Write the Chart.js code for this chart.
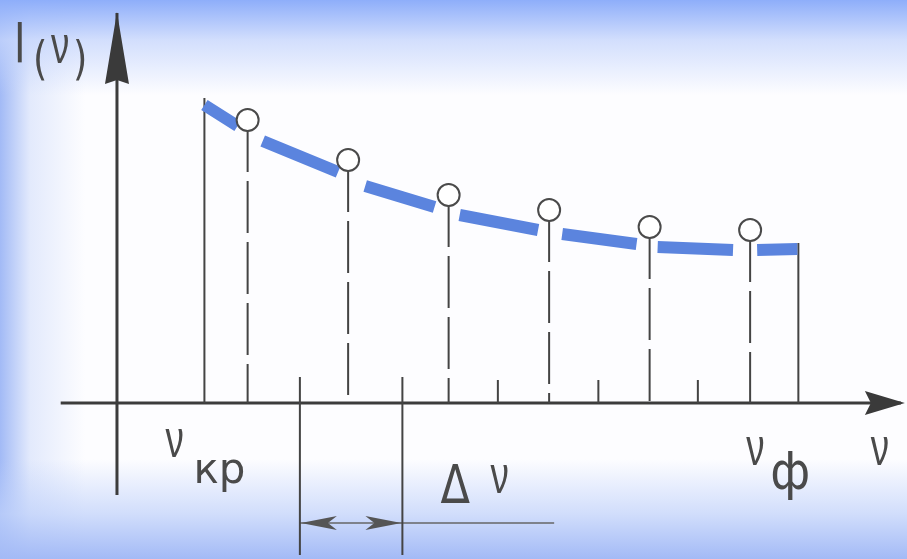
<!DOCTYPE html>
<html>
<head>
<meta charset="utf-8">
<script src="https://cdn.jsdelivr.net/npm/chart.js@4"></script>
<style>
  body { margin: 0; background: #fff; }
  #wrap {
    width: 907px; height: 559px; position: relative;
    background:
      linear-gradient(to bottom, #8eaefa 0px, rgba(196,212,252,0.75) 40px, rgba(255,255,255,0) 95px),
      linear-gradient(to top, #a3baf6 0px, rgba(190,208,250,0.7) 45px, rgba(255,255,255,0) 100px),
      linear-gradient(to right, #a2baf6 0px, rgba(205,218,250,0.55) 30px, rgba(255,255,255,0) 85px),
      #fdfdff;
  }
  canvas { display: block; }
</style>
</head>
<body>
<div id="wrap"><canvas id="spectrum" width="907" height="559"></canvas></div>
<script>
// stems (measured intensities at the centre of each interval)
var nuStem = [1.3, 2.3, 3.3, 4.3, 5.3, 6.3];
var iStem = [2.83, 2.43, 2.08, 1.93, 1.76, 1.73];

// continuous curve I(nu), broken where the circles sit
var bandNu = [0.87, 1.20, null, 1.45, 2.20, null, 2.47, 3.16, null, 3.41, 4.19, null, 4.43, 5.17, null, 5.38, 6.13, null, 6.37, 6.77];
var bandI  = [2.98, 2.77, null, 2.62, 2.31, null, 2.17, 1.96, null, 1.88, 1.73, null, 1.69, 1.59, null, 1.56, 1.53, null, 1.53, 1.54];

var nuKr = 0.87, iKr = 3.05;     // left limit
var nuF = 6.78, iF = 1.60;       // right limit
var binEdges = [3.79, 4.79, 5.78];
var tickH = 0.23;
var deltaNu = [1.82, 2.84];
var deltaTop = 0.26, deltaBottom = -1.52, deltaArrowI = -1.2, deltaLeaderEnd = 4.35;

var axisX = [-0.56, 7.8];   // nu range of horizontal axis
var axisY = [-0.92, 3.9];   // I range of vertical axis

var GAP = { x: null, y: null };

function pairs(xs, ys) {
  return xs.map(function (x, i) { return x === null ? GAP : { x: x, y: ys[i] }; });
}

var stemData = [];
nuStem.forEach(function (n, i) {
  stemData.push({ x: n, y: iStem[i] }, { x: n, y: 0 }, GAP);
});

var solidData = [
  { x: nuKr, y: 0 }, { x: nuKr, y: iKr }, GAP,
  { x: nuF, y: 0 }, { x: nuF, y: iF }, GAP
];
binEdges.forEach(function (n) { solidData.push({ x: n, y: 0 }, { x: n, y: tickH }, GAP); });
deltaNu.forEach(function (n) { solidData.push({ x: n, y: deltaTop }, { x: n, y: deltaBottom }, GAP); });

var axisData = [
  { x: axisX[0], y: 0 }, { x: axisX[1], y: 0 }, GAP,
  { x: 0, y: axisY[0] }, { x: 0, y: axisY[1] }
];

var leaderData = [{ x: deltaNu[0], y: deltaArrowI }, { x: deltaLeaderEnd, y: deltaArrowI }];

var ink = "#444444";

function arrow(ctx, tx, ty, dx, dy, len, half, notch) {
  // tip at (tx,ty), direction (dx,dy) points toward the tip
  var bx = tx - dx * len, by = ty - dy * len;
  var nx = -dy, ny = dx;
  ctx.beginPath();
  ctx.moveTo(tx, ty);
  ctx.lineTo(bx + nx * half, by + ny * half);
  ctx.lineTo(tx - dx * (len - notch), ty - dy * (len - notch));
  ctx.lineTo(bx - nx * half, by - ny * half);
  ctx.closePath();
  ctx.fill();
}

function label(ctx, str, x, y, size, sx, family) {
  ctx.save();
  ctx.translate(x, y);
  ctx.scale(sx, 1);
  ctx.font = size + "px " + (family || "'DejaVu Sans'");
  ctx.fillText(str, 0, 0);
  ctx.restore();
}

var NU_FONT = "'Liberation Sans'";

var decorations = {
  id: "decorations",
  afterDatasetsDraw: function (chart) {
    var ctx = chart.ctx, sx = chart.scales.x, sy = chart.scales.y;
    var X = function (v) { return sx.getPixelForValue(v); };
    var Y = function (v) { return sy.getPixelForValue(v); };
    ctx.save();
    ctx.fillStyle = "#3a3a3a";
    // axis arrow heads
    arrow(ctx, X(0), Y(3.91), 0, -1, 72, 12, 4);
    arrow(ctx, X(7.84), Y(0), 1, 0, 40, 12, 6);
    // delta nu arrows
    ctx.fillStyle = "#555";
    arrow(ctx, X(deltaNu[0]) + 1, Y(deltaArrowI), -1, 0, 36, 7, 9);
    arrow(ctx, X(deltaNu[1]) - 1, Y(deltaArrowI), 1, 0, 36, 7, 9);

    // texts
    ctx.fillStyle = "#4a4a4a";
    ctx.textBaseline = "alphabetic";
    label(ctx, "I", X(0) - 103, 62, 56, 0.7);
    label(ctx, "(", X(0) - 84, 74, 46, 0.8);
    label(ctx, "ν", X(0) - 66, 63, 54, 0.68, NU_FONT);
    label(ctx, ")", X(0) - 44, 74, 46, 0.8);
    label(ctx, "ν", X(nuKr) - 39, Y(0) + 54, 54, 0.68, NU_FONT);
    label(ctx, "кр", X(nuKr) - 11, Y(0) + 80, 42, 1.0);
    label(ctx, "ν", X(nuF) - 52, Y(0) + 62, 54, 0.68, NU_FONT);
    label(ctx, "ф", X(nuF) - 28, Y(0) + 86, 52, 0.9);
    label(ctx, "ν", X(axisX[1]) - 30, Y(0) + 62, 54, 0.68, NU_FONT);
    label(ctx, "Δ", X(deltaNu[1]) + 38, Y(deltaArrowI) - 20, 54, 0.8);
    label(ctx, "ν", X(deltaNu[1]) + 88, Y(deltaArrowI) - 30, 54, 0.68, NU_FONT);
    ctx.restore();
  }
};

new Chart(document.getElementById("spectrum"), {
  type: "line",
  data: {
    datasets: [
      {
        label: "circles",
        data: pairs(nuStem, iStem),
        showLine: false,
        pointRadius: 11,
        pointBorderWidth: 2,
        pointBorderColor: "#4a4a4a",
        pointBackgroundColor: "#ffffff",
        order: 1
      },
      {
        label: "I(nu)",
        data: pairs(bandNu, bandI),
        borderColor: "#5b84de",
        borderWidth: 12,
        borderCapStyle: "butt",
        pointRadius: 0,
        spanGaps: false,
        order: 3
      },
      {
        label: "stems",
        data: stemData,
        borderColor: ink,
        borderWidth: 2,
        borderDash: [52, 9],
        pointRadius: 0,
        spanGaps: false,
        order: 4
      },
      {
        label: "limits",
        data: solidData,
        borderColor: ink,
        borderWidth: 2,
        pointRadius: 0,
        spanGaps: false,
        order: 4
      },
      {
        label: "leader",
        data: leaderData,
        borderColor: "#666",
        borderWidth: 1.5,
        pointRadius: 0,
        order: 4
      },
      {
        label: "axes",
        data: axisData,
        borderColor: "#3c3c3c",
        borderWidth: 3,
        pointRadius: 0,
        spanGaps: false,
        order: 5
      }
    ]
  },
  options: {
    responsive: false,
    animation: false,
    layout: { padding: 0, autoPadding: false },
    scales: {
      x: { type: "linear", min: -1.164, max: 7.861, display: false },
      y: { type: "linear", min: -1.56, max: 4.03, display: false }
    },
    plugins: {
      legend: { display: false },
      tooltip: { enabled: false }
    }
  },
  plugins: [decorations]
});
</script>
</body>
</html>
